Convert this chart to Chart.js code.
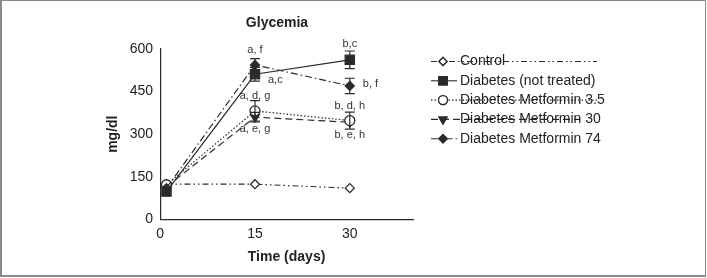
<!DOCTYPE html>
<html>
<head>
<meta charset="utf-8">
<script src="https://cdn.jsdelivr.net/npm/chart.js@4/dist/chart.umd.min.js"></script>
<style>
  html, body { margin:0; padding:0; background:#fff; }
  .frame { position:absolute; left:0; top:0; width:703px; height:274px; border:1px solid #8a8a8a; border-left-width:2px; border-bottom-width:2px; }
  #wrap { position:absolute; left:0; top:0; width:707px; height:278px; }
</style>
</head>
<body>
<div class="frame"></div>
<div id="wrap"><canvas id="chart" width="707" height="278"></canvas></div>
<script>
// ── Data ────────────────────────────────────────────────────────────
const days = [1, 15, 30];
const seriesNames = ['Control', 'Diabetes (not treated)', 'Diabetes Metformin 3.5', 'Diabetes Metformin 30', 'Diabetes Metformin 74'];
const control     = [124, 124, 110];
const diabetes    = [98, 511, 562];
const metf35      = [122, 382, 348];
const metf30      = [115, 360, 342];
const metf74      = [110, 544, 470];
const controlErr  = [0, 0, 0];
const diabetesErr = [0, 24, 31];
const metf35Err   = [0, 36, 30];
const metf30Err   = [0, 17, 0];
const metf74Err   = [0, 22, 27];
const xTicks = [0, 15, 30];
const yTicks = [0, 150, 300, 450, 600];

// significance letters: [dataset, point, text]
const letters = [
  [4, 1, 'a, f'], [1, 1, 'a,c'], [2, 1, 'a, d, g'], [3, 1, 'a, e, g'],
  [1, 2, 'b,c'], [4, 2, 'b, f'], [2, 2, 'b, d, h'], [2, 2, 'b, e, h'],
];
// where each letter label sits relative to its point (px)
const letterOffsets = [[0, -15], [13, 6], [0, -15], [0, 12], [0, -16], [13, -2], [0, -15], [0, 14]];

const ink = '#2b2b2b';
const font = '"Liberation Sans", Arial, sans-serif';
const values = [control, diabetes, metf35, metf30, metf74];
const errs   = [controlErr, diabetesErr, metf35Err, metf30Err, metf74Err];
const styles = [
  { dash: [6, 3, 1.5, 3, 1.5, 3], point: 'rectRot', r: 4.5, fill: '#fff' },
  { dash: [],                     point: 'rect',    r: 6.5, fill: ink },
  { dash: [1.5, 2],               point: 'circle',  r: 5,   fill: '#fff' },
  { dash: [7, 4],                 point: 'triangle',r: 5,   fill: ink, rot: 180 },
  { dash: [7, 3, 1.5, 3],         point: 'rectRot', r: 4.5, fill: ink },
];
// how far each legend line runs to the right (the original figure strokes some through the text)
const legendLineEnd = [597, 0, 597, 580, 0];

const datasets = values.map((v, i) => ({
  label: seriesNames[i],
  data: days.map((d, j) => ({ x: d, y: v[j] })),
  borderColor: ink, borderWidth: 1.2, borderDash: styles[i].dash,
  pointStyle: styles[i].point, pointRadius: styles[i].r, pointRotation: styles[i].rot || 0,
  pointBackgroundColor: styles[i].fill, pointBorderColor: ink, pointBorderWidth: 1.3,
  tension: 0, fill: false,
  order: [5, 0, 2, 3, 1][i],
}));

// ── Error bars, letters, title ──────────────────────────────────────
const errorBars = {
  id: 'errorBars',
  afterDatasetsDraw(chart) {
    const { ctx, scales: { x, y } } = chart;
    ctx.save();
    ctx.strokeStyle = ink; ctx.lineWidth = 1.2; ctx.setLineDash([]);
    errs.forEach((e, i) => e.forEach((err, j) => {
      if (!err) return;
      const px = x.getPixelForValue(days[j]);
      const top = y.getPixelForValue(values[i][j] + err);
      const bot = y.getPixelForValue(values[i][j] - err);
      ctx.beginPath();
      ctx.moveTo(px, top); ctx.lineTo(px, bot);
      ctx.moveTo(px - 5, top); ctx.lineTo(px + 5, top);
      ctx.moveTo(px - 5, bot); ctx.lineTo(px + 5, bot);
      ctx.stroke();
    }));
    ctx.font = '11px ' + font;
    ctx.fillStyle = '#333'; ctx.textBaseline = 'middle';
    letters.forEach(([ds, pt, txt], k) => {
      const [dx, dy] = letterOffsets[k];
      ctx.textAlign = dx > 0 ? 'left' : 'center';
      ctx.fillText(txt, x.getPixelForValue(days[pt]) + dx, y.getPixelForValue(values[ds][pt]) + dy);
    });
    // title sits a little left of the plot centre in the original
    ctx.font = 'bold 14px ' + font; ctx.fillStyle = '#222'; ctx.textAlign = 'center';
    ctx.fillText('Glycemia', 277, 23);
    ctx.restore();
  },
};

// ── Legend (line + marker, right side) ──────────────────────────────
const sideLegend = {
  id: 'sideLegend',
  afterDraw(chart) {
    const { ctx } = chart;
    const x0 = 431, tx = 460, y0 = 61.5, step = 19.3;
    ctx.save();
    ctx.font = '14px ' + font;
    ctx.textBaseline = 'middle'; ctx.textAlign = 'left';
    chart.data.datasets.forEach((ds, i) => {
      const yy = y0 + i * step;
      ctx.strokeStyle = ink; ctx.lineWidth = 1.1;
      ctx.setLineDash(ds.borderDash);
      ctx.beginPath(); ctx.moveTo(x0, yy); ctx.lineTo(Math.max(tx - 3, legendLineEnd[i]), yy); ctx.stroke();
      ctx.setLineDash([]);
      ctx.fillStyle = '#222';
      ctx.fillText(ds.label, tx, yy);
      ctx.fillStyle = ds.pointBackgroundColor;
      ctx.lineWidth = 1.3;
      Chart.helpers.drawPoint(ctx, { pointStyle: ds.pointStyle, radius: ds.pointRadius * 0.9, rotation: ds.pointRotation, borderWidth: 1.3 }, x0 + 12, yy);
      ctx.fill(); ctx.stroke();
    });
    ctx.restore();
  },
};

new Chart(document.getElementById('chart'), {
  type: 'line',
  data: { datasets },
  options: {
    responsive: false, animation: false,
    layout: { padding: { left: 105, right: 294, top: 49, bottom: 12 } },
    plugins: { legend: { display: false }, tooltip: { enabled: false } },
    scales: {
      x: {
        type: 'linear', min: 0, max: 40,
        afterBuildTicks: s => { s.ticks = xTicks.map(v => ({ value: v })); },
        grid: { display: false, drawTicks: true, tickLength: 5, tickColor: ink },
        border: { color: ink, width: 1.2 },
        ticks: { color: '#222', padding: 1, font: { size: 14, family: font } },
        title: { display: true, text: 'Time (days)', color: '#222', font: { size: 14, weight: 'bold', family: font }, padding: { top: 6, bottom: 0 } },
      },
      y: {
        min: 0, max: 600,
        afterBuildTicks: s => { s.ticks = yTicks.map(v => ({ value: v })); },
        grid: { display: false, drawTicks: true, tickLength: 5, tickColor: ink },
        border: { color: ink, width: 1.2 },
        ticks: { color: '#222', padding: 2, font: { size: 14, family: font } },
        title: { display: true, text: 'mg/dl', color: '#222', font: { size: 14, weight: 'bold', family: font }, padding: { top: 0, bottom: 6 } },
      },
    },
  },
  plugins: [errorBars, sideLegend],
});
</script>
</body>
</html>
